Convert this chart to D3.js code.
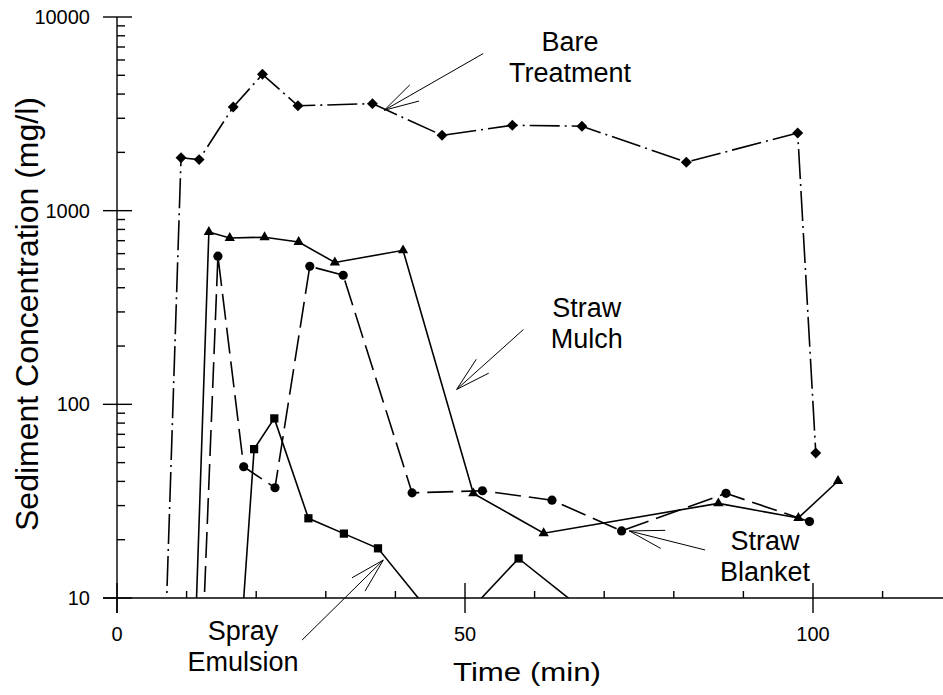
<!DOCTYPE html>
<html>
<head>
<meta charset="utf-8">
<script src="https://cdn.jsdelivr.net/npm/d3@7"></script>
<style>
    body { margin: 0; background: #fff; }
    text { font-family: "Liberation Sans", Arial, sans-serif; fill: #000; }
</style>
</head>
<body>
<svg id="chart" width="943" height="695"></svg>
<script>
// time (min) / sediment concentration (mg/l).
// values under 10 lie below the axis: only the line rising out of it shows.
var bareTime = [7.0, 9.2, 11.8, 16.7, 20.9, 26.0, 36.7, 46.7, 56.8, 66.8, 81.8, 97.8, 100.4];
var bareConc = [7, 1875, 1835, 3430, 5060, 3480, 3570, 2450, 2760, 2730, 1780, 2520, 56];

var mulchTime = [11.2, 13.2, 16.2, 21.2, 26.1, 31.3, 41.1, 51.2, 61.3, 86.4, 97.9, 103.6];
var mulchConc = [5.7, 776, 723, 729, 689, 540, 624, 34.7, 21.6, 30.8, 25.9, 40.2];

var blanketTime = [12.0, 14.5, 18.2, 22.7, 27.7, 32.5, 42.4, 52.5, 62.5, 72.5, 87.5, 99.5];
var blanketConc = [3.2, 582, 47.6, 37.1, 516, 464, 34.9, 35.8, 32.0, 22.2, 34.7, 24.8];

var sprayTime = [17.5, 19.7, 22.6, 27.5, 32.6, 37.5, 47.5, 57.7, 67.5];
var sprayConc = [4.3, 58.7, 84.6, 25.8, 21.5, 18.05, 6.5, 16.0, 8.4];

var xTickLabels = [0, 50, 100];
var yTickLabels = [10, 100, 1000, 10000];

// annotations (label centre + first baseline, arrow tip and tail), in data units
var noteText = [["Bare", "Treatment"], ["Straw", "Mulch"], ["Straw", "Blanket"], ["Spray", "Emulsion"]];
var noteTime = [65.1, 67.5, 93.1, 18.1];
var noteConc = [6650, 283, 17.7, 6.07];
var tipTime = [38.4, 48.8, 73.6, 38.26];
var tipConc = [3300, 119.4, 22.2, 15.7];
var tailTime = [52.6, 58.4, 84.5, 26.6];
var tailConc = [6470, 243.5, 17.7, 6.07];

var W = 943, H = 695;
var svg = d3.select("#chart");

var x = d3.scaleLinear().domain([0, 120]).range([117, 117 + 120 * 6.96]);
var y = d3.scaleLog().domain([10, 10000]).range([598, 17]);

// clip the series at the x axis
svg.append("defs").append("clipPath").attr("id", "plotClip")
    .append("rect").attr("x", 100).attr("y", 0).attr("width", W - 100).attr("height", y(10));

var series = [
    {t: bareTime, c: bareConc, dash: "30,5,2,5", sym: "diamond"},
    {t: mulchTime, c: mulchConc, dash: null, sym: "triangle"},
    {t: blanketTime, c: blanketConc, dash: "26,8", sym: "circle"},
    {t: sprayTime, c: sprayConc, dash: null, sym: "square"}
];

var line = d3.line().x(function(d){ return x(d[0]); }).y(function(d){ return y(d[1]); });
var plot = svg.append("g").attr("clip-path", "url(#plotClip)");

series.forEach(function(s){
    var pts = s.t.map(function(t, i){ return [t, s.c[i]]; });
    plot.append("path").attr("d", line(pts))
        .attr("fill", "none").attr("stroke", "#000").attr("stroke-width", 1.6)
        .attr("stroke-dasharray", s.dash);

    var sym, rot = 0;
    if (s.sym === "diamond"){ sym = d3.symbol().type(d3.symbolSquare).size(60); rot = 45; }
    else if (s.sym === "triangle") sym = d3.symbol().type(d3.symbolTriangle).size(46);
    else if (s.sym === "circle") sym = d3.symbol().type(d3.symbolCircle).size(66);
    else sym = d3.symbol().type(d3.symbolSquare).size(68);

    plot.selectAll(null).data(pts.filter(function(d){ return d[1] >= 10; }))
        .enter().append("path")
        .attr("d", sym)
        .attr("transform", function(d){ return "translate(" + x(d[0]) + "," + y(d[1]) + ") rotate(" + rot + ")"; })
        .attr("fill", "#000");
});

// axes
var axis = svg.append("g").attr("stroke", "#000").attr("stroke-width", 1.4);
axis.append("line").attr("x1", x(0)).attr("x2", x(0)).attr("y1", y(10000)).attr("y2", y(10) + 15);
axis.append("line").attr("x1", x(0) - 14).attr("x2", W).attr("y1", y(10)).attr("y2", y(10));

y.ticks().forEach(function(v){
    var major = Math.abs(Math.log10(v) - Math.round(Math.log10(v))) < 1e-9;
    axis.append("line")
        .attr("x1", major ? x(0) - 14 : x(0)).attr("x2", major ? x(0) + 15 : x(0) + 8)
        .attr("y1", y(v)).attr("y2", y(v));
});
d3.range(0, 121, 10).forEach(function(t){
    var major = t % 50 === 0;
    axis.append("line").attr("x1", x(t)).attr("x2", x(t))
        .attr("y1", major ? y(10) - 15 : y(10) - 7).attr("y2", major ? y(10) + 15 : y(10));
});

svg.selectAll(".ylab").data(yTickLabels).enter().append("text")
    .attr("x", 90).attr("y", function(d){ return y(d) + 7; })
    .attr("text-anchor", "end").attr("font-size", 20)
    .text(function(d){ return d; });
svg.selectAll(".xlab").data(xTickLabels).enter().append("text")
    .attr("x", function(d){ return x(d); }).attr("y", 641)
    .attr("text-anchor", "middle").attr("font-size", 20)
    .text(function(d){ return d; });

svg.append("text").attr("x", 527).attr("y", 681)
    .attr("text-anchor", "middle").attr("font-size", 25)
    .attr("textLength", 148).attr("lengthAdjust", "spacingAndGlyphs")
    .text("Time (min)");
svg.append("text").attr("transform", "translate(38,314) rotate(-90)")
    .attr("text-anchor", "middle").attr("font-size", 32)
    .text("Sediment Concentration (mg/l)");

// labels with open arrows
noteText.forEach(function(lines, i){
    var t = svg.append("text").attr("text-anchor", "middle").attr("font-size", 27);
    lines.forEach(function(s, k){
        t.append("tspan").attr("x", x(noteTime[i])).attr("y", y(noteConc[i]) + k * 31).text(s);
    });

    var tx = x(tipTime[i]), ty = y(tipConc[i]);
    var ex = x(tailTime[i]), ey = y(tailConc[i]);
    var a = Math.atan2(ey - ty, ex - tx), len = 36, spread = 15 * Math.PI / 180;
    var g = svg.append("g").attr("stroke", "#000").attr("stroke-width", 1);
    g.append("line").attr("x1", tx).attr("y1", ty).attr("x2", ex).attr("y2", ey);
    [-spread, spread].forEach(function(da){
        g.append("line").attr("x1", tx).attr("y1", ty)
            .attr("x2", tx + len * Math.cos(a + da)).attr("y2", ty + len * Math.sin(a + da));
    });
});
</script>
</body>
</html>
